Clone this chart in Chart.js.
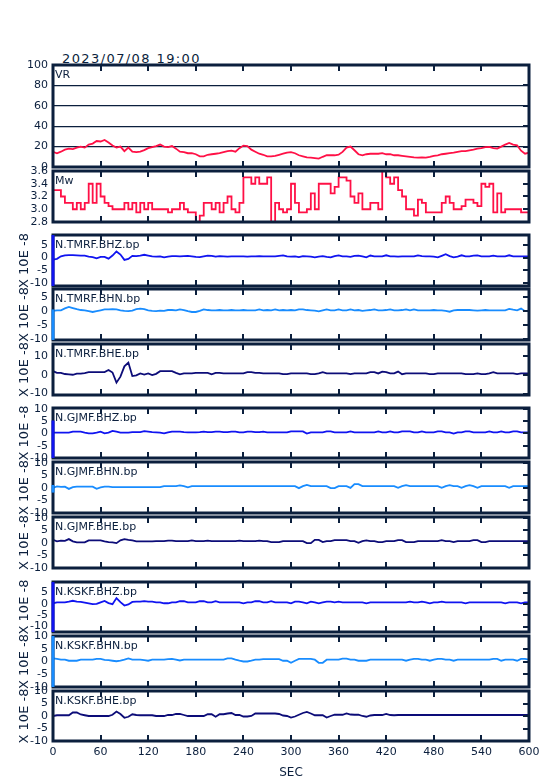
<!DOCTYPE html>
<html>
<head>
<meta charset="utf-8">
<script src="https://cdn.jsdelivr.net/npm/chart.js@4.4.1/dist/chart.umd.min.js"></script>
<style>
  body { margin: 0; background: #fff; }
  #wrap { position: relative; width: 554px; height: 781px; overflow: hidden; }
  #wrap canvas { position: absolute; left: 0; }
  #stamp { position: absolute; left: 62px; top: 52px; font: 13px "DejaVu Sans"; line-height: 13px;
           letter-spacing: 1.4px; color: #0b1f3d; white-space: nowrap; }
</style>
</head>
<body>
<div id="wrap"><div id="stamp">2023/07/08 19:00</div></div>
<script>
// sample times (s)
const secs = [0,5,10,15,20,25,30,35,40,45,50,55,
  60,65,70,75,80,85,90,95,100,105,110,115,
  120,125,130,135,140,145,150,155,160,165,170,175,
  180,185,190,195,200,205,210,215,220,225,230,235,
  240,245,250,255,260,265,270,275,280,285,290,295,
  300,305,310,315,320,325,330,335,340,345,350,355,
  360,365,370,375,380,385,390,395,400,405,410,415,
  420,425,430,435,440,445,450,455,460,465,470,475,
  480,485,490,495,500,505,510,515,520,525,530,535,
  540,545,550,555,560,565,570,575,580,585,590,595,
  600];
const secTicks = [0, 60, 120, 180, 240, 300, 360, 420, 480, 540, 600];

const vrTicks = [0, 20, 40, 60, 80, 100];
const mwTicks = [2.8, 3.0, 3.2, 3.4, 3.6];
const waveTicks5 = [5, 0, -5, -10];
const waveTicks10 = [10, 0, -10];
const waveTicksFull = [10, 5, 0, -5, -10];

const vrValues = [14.8,13.5,15,17,18,17.5,19,20,19,22,23,25.5,
  25,26.5,24,21,19,20,15.5,19,15,14.5,15,16.5,
  18.5,19.5,20.5,22,20,19.5,20.5,18,15,14.5,13.5,13.5,
  12.5,10.5,10.5,12,12.5,13,13.5,14.5,15.5,16,15,18.5,
  21,20.5,17,15,13,12,10.5,10.5,11,12,13,14,
  14.5,13.5,11.5,10.5,9.5,9.2,8.8,8.2,10,11.5,11.5,11.5,
  12,14.8,19,20,16.4,12.5,11.5,12.5,13,13,13,13.5,
  12.5,12.5,11.5,11.5,11,10.5,10,9.5,9.2,9.5,9.2,10,
  11,11.5,12.5,13,13.5,14,14.8,15.5,15.5,16.4,17,18,
  18.5,19.5,19.7,18.5,18,20,22,23.6,22,21.3,16,13,
  14];

const mwValues = [3.3,3.3,3.2,3.1,3.1,3.0,3.1,3.0,3.1,3.4,3.1,3.4,
  3.2,3.1,3.05,3.0,3.0,3.0,3.1,3.0,3.1,2.95,3.1,3.0,
  3.1,3.0,3.0,3.0,3.0,2.95,3.0,3.0,3.1,3.0,2.95,2.95,
  2.8,2.9,3.1,3.1,3.0,3.1,2.95,3.1,3.2,3.0,2.95,3.1,
  3.5,3.5,3.4,3.5,3.4,3.4,3.5,2.8,3.1,3.0,2.95,3.0,
  3.4,3.1,2.95,2.95,3.0,3.25,3.0,3.4,3.4,3.4,3.25,3.35,
  3.5,3.5,3.45,3.2,3.1,3.25,3.0,3.0,3.1,3.1,3.0,3.6,
  3.5,3.4,3.5,3.3,3.2,3.0,3.0,2.9,3.15,3.1,2.95,2.95,
  2.95,2.95,3.1,3.2,3.1,3.0,3.0,3.05,3.15,3.15,3.1,3.05,
  3.4,3.35,3.4,2.95,3.25,2.95,3.0,3.0,3.0,3.0,2.95,2.95,
  2.95];

const tmrfBHZ = [-0.8,-0.5,0.5,0.9,1.0,1.0,0.9,0.8,0.8,0.4,0.2,-0.3,
  0.3,0.3,-0.4,0.8,2.4,1.2,-0.9,-0.5,0.7,0.6,0.8,1.1,
  0.8,0.5,0.4,0.5,0.1,0.4,0.6,0.6,0.5,0.6,0.7,0.5,
  0.3,0.2,0.5,0.8,0.7,0.4,0.6,0.5,0.4,0.5,0.5,0.5,
  0.5,0.4,0.5,0.5,0.6,0.5,0.5,0.5,0.5,0.7,0.9,0.5,
  0.4,0.5,0.2,0.6,0.5,0.4,0.1,0.4,0.6,0.3,0.1,0.6,
  0.9,0.5,0.5,0.3,0.7,0.8,0.5,0.1,0.8,0.5,0.5,0.5,
  0.9,0.5,0.5,0.4,0.5,0.5,0.5,0.5,0.9,0.6,0.5,0.5,
  0.4,0.1,0.7,1.3,0.6,0.1,0.4,0.9,0.5,0.5,0.8,0.9,
  0.5,0.5,0.5,0.8,0.5,0.5,0.5,0.9,0.5,0.5,0.5,0.5,
  0.5];

const tmrfBHN = [0,0.2,0.2,0.9,1.4,1.0,0.6,0.3,0.2,-0.1,-0.4,-0.1,
  0.2,0.5,0.5,0.6,0.5,0.2,0.0,-0.1,0.1,0.6,0.8,0.6,
  0.2,0.0,-0.1,0.1,0.0,0.3,0.3,0.2,0.5,0.3,-0.1,-0.4,
  -0.4,0.0,0.5,0.3,0.2,0.2,0.3,0.2,0.2,0.3,0.2,0.2,
  0.3,0.2,0.2,0.2,0.5,0.2,0.3,0.2,0.5,0.2,0.3,0.2,
  0.3,0.2,0.5,0.5,0.3,0.2,0.1,-0.2,0.2,0.5,0.2,0.2,
  0.5,0.2,0.2,0.5,0.2,0.3,0.0,0.2,0.3,0.5,0.2,0.2,
  0.3,0.5,0.2,0.2,0.3,0.5,0.2,0.5,0.2,0.2,0.2,0.2,
  0.3,0.2,0.2,0.0,-0.3,0.2,0.3,0.3,0.3,0.3,0.2,0.1,
  0.2,0.3,0.2,0.2,0.2,0.2,0.2,0.7,0.4,0.2,0.8,-0.1,
  0.1];

const tmrfBHE = [1.9,1.0,1.0,0.4,0.2,0.0,0.6,0.6,0.9,1.4,1.4,1.4,
  1.4,1.4,2.5,1.2,-4.2,-1.0,4.5,6.5,-0.7,-0.3,0.7,0.1,
  0.7,-0.2,0.5,1.9,1.9,1.9,1.9,1.0,0.2,0.7,0.7,0.7,
  1.0,1.0,1.0,1.0,0.2,1.0,1.0,0.7,0.7,0.7,0.7,0.7,
  0.7,1.4,1.4,1.0,1.0,0.7,0.7,0.7,0.7,0.7,0.3,0.3,
  0.7,0.7,0.7,0.7,0.7,0.3,0.3,0.7,1.4,0.7,0.7,0.7,
  0.7,0.7,0.7,0.3,0.7,0.7,0.7,0.7,1.4,1.4,0.7,1.7,
  1.4,0.7,0.7,1.7,0.3,0.7,0.7,0.7,0.7,0.7,0.7,0.3,
  0.3,0.7,0.7,0.7,0.7,0.7,0.7,0.7,0.3,0.3,0.3,0.7,
  0.3,0.3,0.7,1.4,0.7,0.7,0.7,0.7,0.7,0.3,0.7,0.7,
  0.7];

const gjmfBHZ = [0.3,0.3,0.3,0.3,0.3,0.7,0.7,0.7,0.3,0.0,0.0,0.3,
  0.7,0.0,0.3,1.0,0.7,0.3,0.3,0.3,0.5,0.5,0.5,0.9,
  0.7,0.5,0.4,0.3,0.0,0.4,0.7,0.7,0.7,0.5,0.4,0.4,
  0.4,0.5,0.7,0.5,0.5,0.7,0.7,0.5,0.5,0.7,0.7,0.4,
  0.4,0.7,0.7,0.5,0.5,0.7,0.4,0.4,0.4,0.4,0.4,0.4,
  0.8,0.8,0.8,0.8,-0.1,0.4,0.4,0.4,0.4,0.8,0.8,0.4,
  0.4,0.4,0.4,0.8,0.4,0.4,0.4,0.4,0.4,0.4,0.8,0.4,
  0.4,0.8,0.4,0.4,0.8,0.8,0.8,0.4,0.4,0.8,0.4,0.4,
  0.4,0.8,0.8,0.4,0.4,-0.1,0.4,0.4,0.8,0.8,0.4,0.4,
  0.4,0.4,0.8,0.4,0.4,0.8,0.4,0.4,0.8,0.8,0.4,0.4,
  0.4];

const gjmfBHN = [0.0,0.6,0.4,0.5,-0.4,0.3,0.5,0.5,0.5,0.5,0.5,-0.4,
  0.2,0.5,0.5,0.3,0.3,0.3,0.3,0.3,0.3,0.3,0.3,0.3,
  0.3,0.3,0.3,0.3,0.7,0.7,0.7,0.7,1.0,0.7,0.2,0.7,
  0.7,0.7,0.7,0.7,0.7,0.7,0.7,0.7,0.7,0.7,0.7,0.7,
  0.7,0.7,0.7,0.7,0.7,0.7,0.7,0.7,0.7,0.7,0.7,0.7,
  0.7,0.7,-0.1,0.7,1.2,0.7,0.7,0.7,0.7,0.7,-0.1,-0.1,
  0.7,0.7,0.7,0.0,1.5,1.5,0.7,0.7,0.7,0.7,0.7,0.7,
  0.7,0.7,0.7,0.0,0.7,1.1,0.7,0.7,0.7,0.7,0.7,0.7,
  0.7,0.7,0.0,0.7,1.1,0.7,0.7,0.0,0.7,1.1,0.7,0.0,
  0.7,0.7,0.7,0.7,0.7,0.7,0.7,0.0,0.7,0.7,0.7,0.7,
  0.7];

const gjmfBHE = [1.2,0.6,0.9,0.8,1.5,0.6,0.2,0.2,0.2,1.0,1.0,1.0,
  1.0,0.6,0.3,0.2,-0.1,1.0,1.5,1.2,1.0,0.6,0.6,0.6,
  0.6,0.6,0.7,0.7,0.7,0.9,0.9,0.7,0.7,0.7,0.7,1.0,
  0.7,0.7,0.7,0.9,0.7,0.7,0.7,0.7,0.7,0.7,0.7,0.9,
  0.7,0.7,0.7,0.7,0.9,0.7,0.7,0.3,0.3,0.3,0.7,0.7,
  0.7,0.7,0.7,0.7,-0.1,-0.1,1.2,1.2,0.3,0.7,0.7,1.1,
  1.1,1.1,1.1,0.7,0.7,0.0,0.7,1.0,0.7,0.7,0.3,0.3,
  0.7,0.7,0.7,1.1,1.1,0.3,0.3,0.3,0.7,0.7,0.7,0.7,
  0.7,0.7,1.1,0.7,0.7,0.3,0.7,0.7,0.7,0.7,1.1,1.1,
  0.3,0.3,0.7,0.7,0.7,0.7,0.7,0.7,0.7,0.7,0.7,0.7,
  0.7];

const kskfBHZ = [0.3,0.7,0.7,0.7,1.0,1.4,1.0,0.9,0.6,0.3,-0.1,0.0,
  0.7,1.3,0.4,-0.1,2.6,0.8,-0.7,-0.2,0.9,1.0,1.0,1.2,
  1.0,1.0,0.7,0.7,0.3,0.3,0.7,0.7,1.2,1.2,0.7,0.7,
  0.7,1.2,1.2,0.7,0.7,1.2,0.7,0.7,0.7,0.7,0.7,0.7,
  0.3,0.7,0.7,1.2,1.2,0.7,0.7,1.2,0.7,0.7,0.7,0.7,
  0.3,1.0,1.0,0.7,0.3,1.0,0.7,0.3,0.7,1.0,1.0,0.7,
  1.0,0.7,0.7,0.7,0.7,0.7,0.7,0.3,0.7,0.7,0.7,0.7,
  0.7,0.7,0.7,0.7,0.7,0.7,1.0,0.7,0.7,1.0,0.7,0.3,
  0.7,0.7,1.0,0.7,0.7,0.7,0.7,0.7,0.3,0.7,0.7,0.7,
  0.7,0.7,0.7,0.7,0.7,0.7,0.3,0.7,0.7,0.7,0.3,0.7,
  0.7];

const kskfBHN = [1.2,1.0,0.7,0.7,0.3,0.3,0.3,0.7,0.7,0.7,0.7,1.0,
  1.0,0.6,0.5,0.3,0.1,0.3,0.7,1.2,0.7,0.7,0.7,0.5,
  0.3,0.7,0.7,0.7,0.7,0.9,1.0,0.7,0.4,0.7,0.7,0.7,
  0.7,0.7,0.7,0.7,0.7,0.7,0.7,0.7,1.2,1.2,0.7,0.3,
  0.0,0.0,0.3,0.7,0.7,0.9,0.9,0.9,0.9,0.9,0.3,0.3,
  -0.5,0.3,1.0,1.0,1.0,1.0,0.7,-0.5,-0.5,0.7,0.7,0.7,
  0.7,1.1,1.1,0.7,0.7,0.3,0.3,0.3,0.7,0.7,0.7,0.7,
  0.7,0.7,0.7,0.7,0.7,0.3,0.7,1.0,1.0,0.7,0.7,0.3,
  0.7,1.0,1.0,0.7,0.7,0.3,0.7,0.7,0.7,0.7,0.7,0.7,
  0.7,0.7,0.7,1.0,1.0,0.3,0.7,0.7,0.7,0.3,1.0,1.0,
  0.7];

const kskfBHE = [0.0,0.3,0.3,0.3,0.3,1.4,1.4,0.6,0.3,0.0,0.0,0.0,
  0.0,0.0,0.0,0.5,1.8,0.8,-0.7,-0.3,0.7,0.4,0.3,0.3,
  0.3,0.3,0.0,0.0,0.0,0.4,0.4,0.8,0.8,0.4,0.0,0.0,
  0.0,0.0,0.0,0.7,0.7,-0.3,0.7,0.7,1.0,1.2,0.4,0.4,
  -0.2,-0.2,0.0,1.0,1.0,1.0,1.0,1.0,1.0,0.8,0.2,0.0,
  -0.6,-0.2,0.5,1.2,1.6,1.0,0.3,0.3,0.3,-0.6,0.0,0.5,
  0.5,0.5,1.0,0.6,0.5,0.5,0.0,-0.3,0.2,0.4,0.4,0.4,
  0.8,0.4,0.3,0.4,0.4,0.4,0.4,0.4,0.4,0.4,0.4,0.4,
  0.4,0.4,0.4,0.4,0.4,0.4,0.4,0.4,0.4,0.4,0.4,0.4,
  0.4,0.4,0.4,0.4,0.4,0.4,0.4,0.4,0.4,0.4,0.4,0.4,
  0.4];

const NAVY = '#0b1f3d';
const RED = 'rgb(255,16,70)';
const BLUE_Z = 'rgb(16,20,240)';
const BLUE_N = 'rgb(24,140,255)';
const BLUE_E = 'rgb(12,12,120)';
const UNIT = 'X 10E -8';

Chart.defaults.font.family = '"DejaVu Sans"';
Chart.defaults.font.size = 11;
Chart.defaults.color = NAVY;

const panels = [
  { label: 'VR', values: vrValues, color: RED, top: 65, bottom: 167, min: 0, max: 100, ticks: vrTicks, grid: true },
  { label: 'Mw', values: mwValues, color: RED, top: 171, bottom: 222, min: 2.8, max: 3.6, ticks: mwTicks, stepped: true, fixed: 1 },
  { label: 'N.TMRF.BHZ.bp', values: tmrfBHZ, color: BLUE_Z, top: 235, bottom: 286, min: -11.2, max: 8.9, ticks: waveTicks5, unit: true, edge: [0, 1] },
  { label: 'N.TMRF.BHN.bp', values: tmrfBHN, color: BLUE_N, top: 289, bottom: 340, min: -10.4, max: 7.8, ticks: waveTicks5, unit: true, edge: [0.4, 1] },
  { label: 'N.TMRF.BHE.bp', values: tmrfBHE, color: BLUE_E, top: 344, bottom: 395, min: -10.8, max: 16.4, ticks: waveTicks10, unit: true },
  { label: 'N.GJMF.BHZ.bp', values: gjmfBHZ, color: BLUE_Z, top: 408, bottom: 458, min: -10, max: 10.3, ticks: waveTicksFull, unit: true, edge: [0.25, 1] },
  { label: 'N.GJMF.BHN.bp', values: gjmfBHN, color: BLUE_N, top: 462, bottom: 513, min: -10, max: 10.3, ticks: waveTicksFull, unit: true, edge: [0.45, 0.6] },
  { label: 'N.GJMF.BHE.bp', values: gjmfBHE, color: BLUE_E, top: 517, bottom: 568, min: -10, max: 10.3, ticks: waveTicksFull, unit: true },
  { label: 'N.KSKF.BHZ.bp', values: kskfBHZ, color: BLUE_Z, top: 582, bottom: 632, min: -12.4, max: 9.7, ticks: waveTicks5, unit: true, edge: [0, 1] },
  { label: 'N.KSKF.BHN.bp', values: kskfBHN, color: BLUE_N, top: 636, bottom: 687, min: -10, max: 10, ticks: waveTicksFull, unit: true, edge: [0, 1] },
  { label: 'N.KSKF.BHE.bp', values: kskfBHE, color: BLUE_E, top: 691, bottom: 741, min: -10, max: 10, ticks: waveTicksFull, unit: true, last: true }
];

// frame, inward tick marks and the panel name, drawn last
function makeFrame(p) {
  return {
    id: 'frame',
    afterDraw(chart) {
      const { ctx, chartArea: a } = chart;
      const x = chart.scales.x, y = chart.scales.y;
      const L = Math.round(a.left), R = Math.round(a.right);
      const T = Math.round(a.top), B = Math.round(a.bottom);
      ctx.save();
      ctx.strokeStyle = NAVY;
      ctx.lineWidth = 2;
      ctx.beginPath();
      for (const s of secTicks) {
        const px = Math.round(x.getPixelForValue(s));
        ctx.moveTo(px, T); ctx.lineTo(px, T + 6);
        ctx.moveTo(px, B); ctx.lineTo(px, B - 6);
      }
      for (const v of p.ticks) {
        const py = Math.round(y.getPixelForValue(v));
        ctx.moveTo(R, py); ctx.lineTo(R - 6, py);
      }
      ctx.stroke();
      ctx.lineWidth = 3;
      ctx.strokeRect(L, T, R - L, B - T);
      if (p.edge) {
        const h = B - T;
        ctx.strokeStyle = p.color;
        ctx.beginPath();
        ctx.moveTo(L, T + h * p.edge[0]);
        ctx.lineTo(L, T + h * p.edge[1]);
        ctx.stroke();
      }
      ctx.fillStyle = NAVY;
      ctx.font = '11px "DejaVu Sans"';
      ctx.fillText(p.label, L + 2, T + 12.5);
      ctx.restore();
    }
  };
}

const wrap = document.getElementById('wrap');
for (const p of panels) {
  const padTop = 20;
  const padBottom = p.last ? 0 : 20;
  const canvasTop = p.top - padTop;
  const height = p.last ? 781 - canvasTop : (p.bottom - p.top) + padTop + padBottom;
  const cv = document.createElement('canvas');
  cv.width = 554;
  cv.height = height;
  cv.style.top = canvasTop + 'px';
  wrap.appendChild(cv);

  new Chart(cv, {
    type: 'line',
    data: {
      datasets: [{
        data: secs.map((s, i) => ({ x: s, y: p.values[i] })),
        borderColor: p.color,
        borderWidth: 1.8,
        pointRadius: 0,
        tension: 0,
        stepped: p.stepped || false,
      }],
    },
    options: {
      responsive: false,
      animation: false,
      events: [],
      layout: { padding: { top: padTop, bottom: padBottom, left: 0, right: 25 } },
      plugins: {
        legend: { display: false },
        tooltip: { enabled: false },
      },
      scales: {
        x: {
          type: 'linear',
          min: 0,
          max: 600,
          display: !!p.last,
          afterBuildTicks: s => { s.ticks = secTicks.map(v => ({ value: v })); },
          afterFit: s => { if (p.last) s.height = 40; },
          ticks: { padding: 5, autoSkip: false, maxRotation: 0 },
          grid: { display: false, drawTicks: false },
          border: { display: false },
          title: { display: true, text: 'SEC', font: { size: 12 }, padding: { top: 0, bottom: 1 } },
        },
        y: {
          min: p.min,
          max: p.max,
          afterBuildTicks: s => { s.ticks = p.ticks.map(v => ({ value: v })); },
          afterFit: s => { s.width = 53; },
          ticks: {
            padding: 5,
            autoSkip: false,
            callback: v => p.fixed ? v.toFixed(p.fixed) : String(v),
          },
          grid: { display: !!p.grid, drawTicks: false, color: NAVY, lineWidth: 1.2 },
          border: { display: false },
          title: { display: !!p.unit, text: UNIT, font: { size: 13 }, padding: { top: 17, bottom: 0 } },
        },
      },
    },
    plugins: [makeFrame(p)],
  });
}
</script>
</body>
</html>
